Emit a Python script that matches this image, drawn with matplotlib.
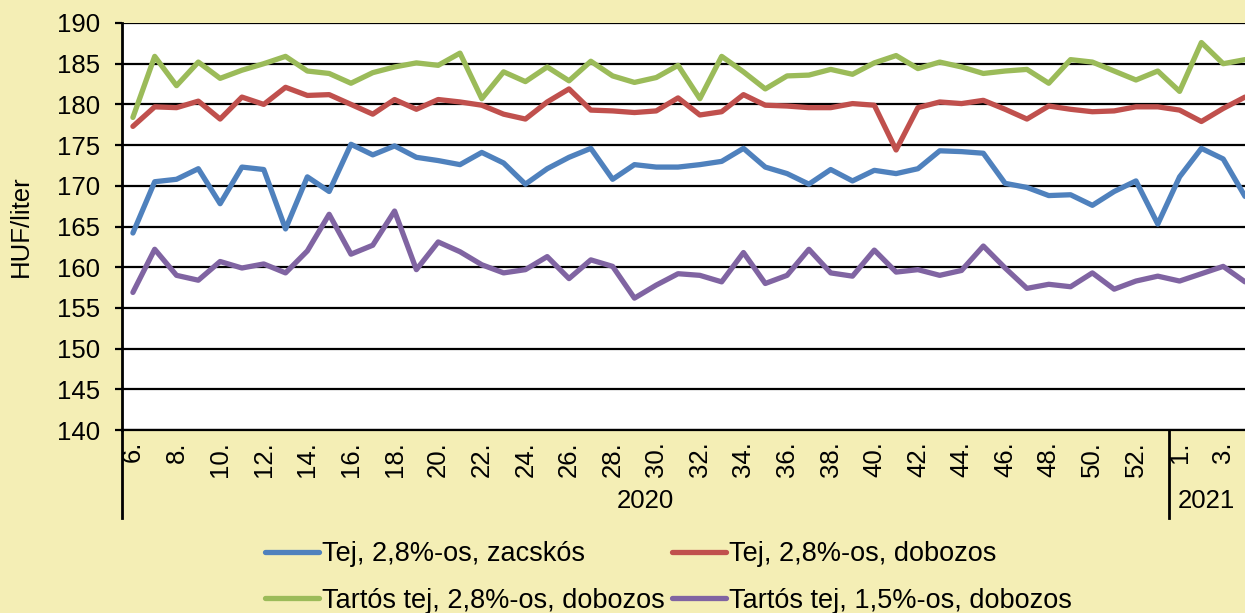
import numpy as np
import matplotlib
matplotlib.use("Agg")
import matplotlib.pyplot as plt
import matplotlib.transforms as mtransforms

plt.rcParams['font.family'] = ['Liberation Sans', 'DejaVu Sans']

# categories: calendar weeks
weeks_2020 = list(range(6, 54))
weeks_2021 = [1, 2, 3, 4]
weeks = weeks_2020 + weeks_2021

# HUF/liter
tej_zacskos = [164.2, 170.5, 170.8, 172.1, 167.8, 172.3, 172.0, 164.7, 171.1, 169.3, 175.1, 173.8,
               174.9, 173.5, 173.1, 172.6, 174.1, 172.8, 170.2, 172.1, 173.5, 174.6, 170.8, 172.6,
               172.3, 172.3, 172.6, 173.0, 174.6, 172.3, 171.5, 170.2, 172.0, 170.6, 171.9, 171.5,
               172.1, 174.3, 174.2, 174.0, 170.3, 169.8, 168.8, 168.9, 167.6, 169.3, 170.6, 165.3,
               171.1, 174.6, 173.3, 168.7]
tej_dobozos = [177.3, 179.7, 179.6, 180.4, 178.2, 180.9, 180.0, 182.1, 181.1, 181.2, 180.0, 178.8,
               180.6, 179.4, 180.6, 180.3, 179.9, 178.8, 178.2, 180.3, 181.9, 179.3, 179.2, 179.0,
               179.2, 180.8, 178.7, 179.1, 181.2, 179.9, 179.8, 179.6, 179.6, 180.1, 179.9, 174.4,
               179.6, 180.3, 180.1, 180.5, 179.4, 178.2, 179.8, 179.4, 179.1, 179.2, 179.7, 179.7,
               179.3, 177.9, 179.5, 180.9]
tartos_28 = [178.4, 185.9, 182.3, 185.2, 183.2, 184.2, 185.0, 185.9, 184.1, 183.8, 182.6, 183.9,
             184.6, 185.1, 184.8, 186.3, 180.7, 184.0, 182.8, 184.6, 182.9, 185.3, 183.5, 182.7,
             183.3, 184.8, 180.7, 185.9, 184.0, 181.9, 183.5, 183.6, 184.3, 183.7, 185.1, 186.0,
             184.4, 185.2, 184.6, 183.8, 184.1, 184.3, 182.6, 185.5, 185.2, 184.1, 183.0, 184.1,
             181.6, 187.6, 185.0, 185.5]
tartos_15 = [156.9, 162.2, 159.0, 158.4, 160.7, 159.9, 160.4, 159.3, 162.0, 166.5, 161.6, 162.7,
             166.9, 159.7, 163.1, 161.9, 160.3, 159.3, 159.7, 161.3, 158.6, 160.9, 160.1, 156.2,
             157.8, 159.2, 159.0, 158.2, 161.8, 158.0, 159.0, 162.2, 159.3, 158.9, 162.1, 159.4,
             159.7, 159.0, 159.6, 162.6, 159.9, 157.4, 157.9, 157.6, 159.3, 157.3, 158.3, 158.9,
             158.3, 159.2, 160.1, 158.2]

series = [
    ("Tej, 2,8%-os, zacskós", tej_zacskos, "#4F81BD"),
    ("Tej, 2,8%-os, dobozos", tej_dobozos, "#C0504D"),
    ("Tartós tej, 2,8%-os, dobozos", tartos_28, "#9BBB59"),
    ("Tartós tej, 1,5%-os, dobozos", tartos_15, "#8064A2"),
]

bg = "#F4EEB5"
fig = plt.figure(figsize=(12.45, 6.13), dpi=100, facecolor=bg)
ax = fig.add_axes([122 / 1245, 1 - 430 / 613, 1 - 122 / 1245, 407 / 613])
ax.set_facecolor("white")

x = np.arange(len(weeks))
lines = {}
for name, vals, col in series:
    ln, = ax.plot(x, vals, color=col, lw=3.8, label=name, solid_capstyle="round",
                  solid_joinstyle="round", zorder=3)
    lines[name] = ln

ax.set_ylim(140, 190)
ax.set_yticks(np.arange(140, 191, 5))
ax.set_xlim(-0.5, 51.0)
ax.grid(axis="y", color="black", lw=1.6, zorder=1)
ax.set_axisbelow(True)

for s in ["top", "right"]:
    ax.spines[s].set_visible(False)
ax.spines["left"].set_linewidth(2)
ax.spines["bottom"].set_linewidth(1.6)

ax.tick_params(axis="y", direction="out", length=5, width=1.6, labelsize=18.5, pad=11)
ax.tick_params(axis="x", length=0, labelsize=18.5, pad=8)
ax.set_xticks(x[::2])
ax.set_xticklabels([f"{w}." for w in weeks[::2]], rotation=90)
ax.set_ylabel("HUF/liter", fontsize=18.5, labelpad=17)

# year group separators and labels
trans = mtransforms.blended_transform_factory(ax.transData, ax.transAxes)
n20 = len(weeks_2020)
for xv in [-0.5, n20 - 0.5]:
    ax.plot([xv, xv], [0, -0.215], transform=trans, color="black", lw=2, clip_on=False)
ax.text((n20 - 1) / 2, -0.175, "2020", transform=trans, ha="center", va="center", fontsize=18.5)
ax.text((n20 - 0.5 + 51.0) / 2, -0.175, "2021", transform=trans, ha="center", va="center",
        fontsize=18.5)

order = [series[0][0], series[2][0], series[1][0], series[3][0]]
fig.legend([lines[n] for n in order], order, loc="center", bbox_to_anchor=(0.537, 0.058),
           ncol=2, frameon=False, fontsize=19.5, handlelength=2.0, handletextpad=0.12,
           columnspacing=0.25, labelspacing=0.75)

fig.savefig("out.png", dpi=100, facecolor=bg)
